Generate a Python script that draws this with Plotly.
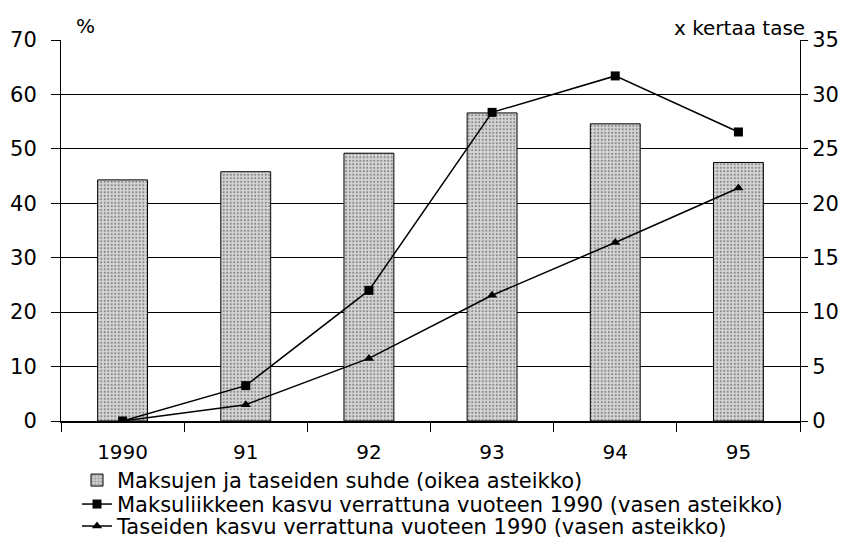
import plotly.graph_objects as go

years = ["1990", "91", "92", "93", "94", "95"]
ratio_right = [22.15, 22.9, 24.6, 28.3, 27.3, 23.75]          # Maksujen ja taseiden suhde (oikea asteikko)
payments_growth = [0, 6.5, 24.0, 56.7, 63.4, 53.1]           # Maksuliikkeen kasvu (vasen asteikko)
balance_growth = [0, 3.0, 11.5, 23.1, 32.8, 42.8]            # Taseiden kasvu (vasen asteikko)
left_ticks = [0, 10, 20, 30, 40, 50, 60, 70]
right_ticks = [0, 5, 10, 15, 20, 25, 30, 35]

names = [
    "Maksujen ja taseiden suhde (oikea asteikko)",
    "Maksuliikkeen kasvu verrattuna vuoteen 1990 (vasen asteikko)",
    "Taseiden kasvu verrattuna vuoteen 1990 (vasen asteikko)",
]

FONT = "DejaVu Sans"
W, H = 848, 539
L, R, T, B = 61, 48, 40, 117.5
ph = H - T - B
pw = W - L - R

def py(y_px):
    return (H - B - y_px) / ph

def px(x_px):
    return (x_px - L) / pw

fig = go.Figure()
fig.add_trace(go.Bar(
    x=years, y=ratio_right, name=names[0], yaxis="y", width=0.405,
    marker=dict(color="#cccccc", line=dict(color="black", width=1),
                pattern=dict(shape=".", fgcolor="#3c3c3c", bgcolor="#d6d6d6", size=3.5, solidity=0.3)),
    legend="legend", showlegend=True,
))
fig.add_trace(go.Scatter(
    x=years, y=payments_growth, name=names[1], yaxis="y2", mode="lines+markers",
    line=dict(color="black", width=1.5), marker=dict(symbol="square", size=9, color="black"),
    legend="legend2", showlegend=True,
))
fig.add_trace(go.Scatter(
    x=years, y=balance_growth, name=names[2], yaxis="y2", mode="lines+markers",
    line=dict(color="black", width=1.5), marker=dict(symbol="triangle-up", size=9, color="black"),
    legend="legend3", showlegend=True,
))

leg_common = dict(xanchor="left", yanchor="middle", bgcolor="rgba(0,0,0,0)",
                  font=dict(family=FONT, size=21, color="black"))

fig.update_layout(
    width=W, height=H,
    margin=dict(l=L, r=R, t=T, b=B, autoexpand=False),
    paper_bgcolor="white", plot_bgcolor="white",
    font=dict(family=FONT, size=20, color="black"),
    xaxis=dict(type="category", showgrid=False, showline=True, linecolor="black", linewidth=1.5,
               ticks="outside", tickson="boundaries", ticklen=9, tickcolor="black", tickwidth=1,
               tickfont=dict(family=FONT, size=20), ticklabelstandoff=12, zeroline=False,
               automargin=False),
    yaxis=dict(side="right", range=[0, 35], tickvals=right_ticks, showgrid=True, gridcolor="black",
               gridwidth=1, showline=True, linecolor="black", linewidth=1, ticks="outside",
               ticklen=7, tickcolor="black", tickfont=dict(family=FONT, size=21), zeroline=False,
               automargin=False),
    yaxis2=dict(side="left", overlaying="y", range=[0, 70], tickvals=left_ticks, showgrid=False,
                showline=True, linecolor="black", linewidth=1, ticks="outside", ticklen=9,
                tickcolor="black", tickfont=dict(family=FONT, size=21), ticklabelstandoff=10,
                zeroline=False, automargin=False),
    legend=dict(x=px(77), y=py(481), **leg_common),
    legend2=dict(x=px(77), y=py(505), **leg_common),
    legend3=dict(x=px(77), y=py(527), **leg_common),
    annotations=[
        dict(text="%", x=px(74), y=py(26), xref="paper", yref="paper", xanchor="left",
             yanchor="middle", showarrow=False, font=dict(family=FONT, size=20)),
        dict(text="x kertaa tase", x=px(807), y=py(28), xref="paper", yref="paper",
             xanchor="right", yanchor="middle", showarrow=False, font=dict(family=FONT, size=20)),
    ],
)

fig.write_html("out.html", config={"displayModeBar": False},
               post_script="document.body.style.margin='0';document.body.style.overflow='hidden';")
